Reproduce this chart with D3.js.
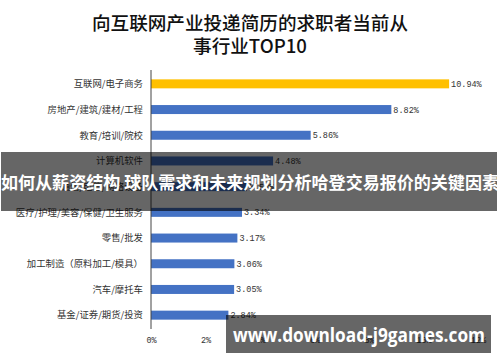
<!DOCTYPE html>
<meta charset="utf-8">
<body style="margin:0;background:#fff">
<style>
.cat { font: 9.4px "Noto Sans CJK SC", sans-serif; fill: #333; text-anchor: end; }
.val { font: 8.5px "Liberation Mono", monospace; fill: #333; }
.tick text { font: 8.5px "Liberation Mono", monospace; fill: #333; }
</style>
<script src="https://cdn.jsdelivr.net/npm/d3@7"></script>
<script>
var categories = ["互联网/电子商务", "房地产/建筑/建材/工程", "教育/培训/院校", "计算机软件",
  "通信/电信/网络设备", "医疗/护理/美容/保健/卫生服务", "零售/批发", "加工制造（原料加工/模具）",
  "汽车/摩托车", "基金/证券/期货/投资"];
var values = [10.94, 8.82, 5.86, 4.48, 3.52, 3.34, 3.17, 3.06, 3.05, 2.84];
var ticks = [0, 2, 4, 6, 8, 10, 12];
var titleLines = ["向互联网产业投递简历的求职者当前从", "事行业TOP10"];
var bannerText = "如何从薪资结构 球队需求和未来规划分析哈登交易报价的关键因素";
var watermark = "www.download-j9games.com";

var width = 500, height = 362;
var svg = d3.select("body").append("svg")
    .attr("width", width)
    .attr("height", height);

var x = d3.scaleLinear().domain([0, 12]).range([151, 478]);
var y = d3.scaleBand().domain(categories).range([71, 328])
    .paddingInner(0.65).paddingOuter(0.325);

// title
svg.selectAll(".title").data(titleLines).enter().append("text")
    .attr("x", 250)
    .attr("y", function(d, i) { return 30 + i * 23; })
    .attr("text-anchor", "middle")
    .style("font", "500 18.6px 'Noto Sans CJK SC', sans-serif")
    .style("fill", "#111")
    .text(function(d) { return d; });

// bars
svg.selectAll(".bar").data(values).enter().append("rect")
    .attr("x", x(0))
    .attr("y", function(d, i) { return y(categories[i]); })
    .attr("width", function(d) { return x(d) - x(0); })
    .attr("height", y.bandwidth())
    .attr("fill", function(d, i) { return i == 0 ? "#FFC000" : "#4472C4"; });

svg.selectAll(".val").data(values).enter().append("text")
    .attr("class", "val")
    .attr("x", function(d) { return x(d) + 2; })
    .attr("y", function(d, i) { return y(categories[i]) + y.bandwidth() / 2; })
    .attr("dy", "0.35em")
    .text(function(d) { return d.toFixed(2) + "%"; });

svg.selectAll(".cat").data(categories).enter().append("text")
    .attr("class", "cat")
    .attr("x", 143)
    .attr("y", function(d) { return y(d) + y.bandwidth() / 2; })
    .attr("dy", "0.35em")
    .text(function(d) { return d; });

// axis line
svg.append("line")
    .attr("x1", x(0)).attr("x2", x(0))
    .attr("y1", 70).attr("y2", 329)
    .attr("stroke", "#444").attr("stroke-width", 1);

var xAxis = svg.append("g")
    .attr("class", "tick")
    .attr("transform", "translate(0,334)")
    .call(d3.axisBottom(x).tickValues(ticks).tickSize(0)
      .tickFormat(function(d) { return d + "%"; }));
xAxis.select(".domain").remove();
xAxis.selectAll("text").attr("dy", "0.71em").attr("y", 3);

// banner overlay
svg.append("rect")
    .attr("x", 1).attr("y", 152)
    .attr("width", 496).attr("height", 59)
    .attr("fill", "#000").attr("fill-opacity", 0.6);
svg.append("text")
    .attr("x", 250).attr("y", 183)
    .attr("dy", "0.35em")
    .attr("text-anchor", "middle")
    .attr("textLength", 498)
    .attr("lengthAdjust", "spacingAndGlyphs")
    .style("font", "bold 17.5px 'Noto Sans CJK SC', sans-serif")
    .style("fill", "#fff")
    .text(bannerText);

// watermark
svg.append("rect")
    .attr("x", 226).attr("y", 315)
    .attr("width", 265).attr("height", 38)
    .attr("fill", "#000").attr("fill-opacity", 0.6);
svg.append("text")
    .attr("x", 359).attr("y", 335)
    .attr("dy", "0.35em")
    .attr("text-anchor", "middle")
    .attr("textLength", 252)
    .attr("lengthAdjust", "spacingAndGlyphs")
    .style("font", "bold 20px 'Open Sans', sans-serif")
    .style("fill", "#fff")
    .text(watermark);
</script>
</body>
